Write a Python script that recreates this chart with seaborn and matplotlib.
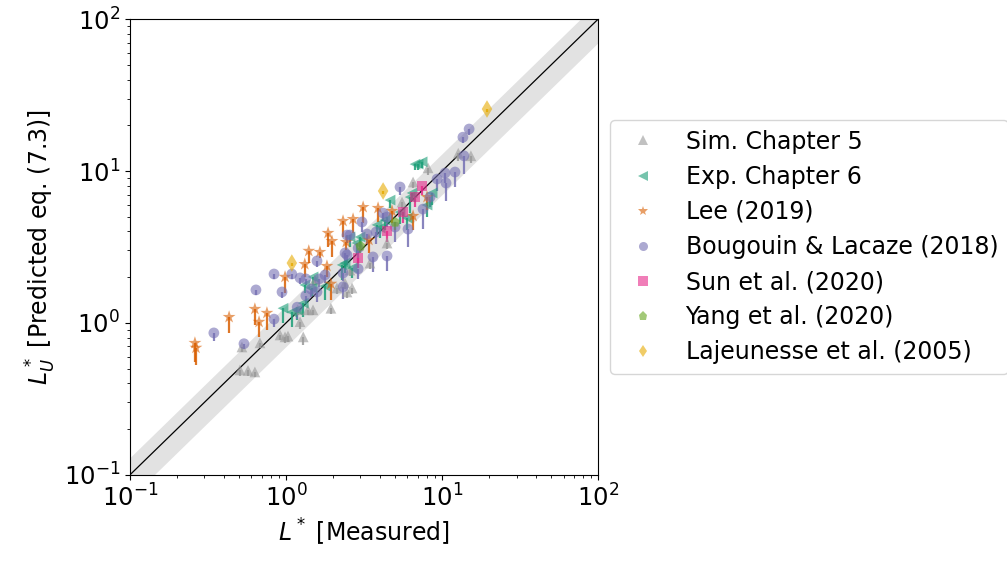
import numpy as np
import pandas as pd
import matplotlib
import matplotlib.pyplot as plt
import seaborn as sns
from matplotlib.lines import Line2D

matplotlib.rcParams['font.size'] = 17.5

# Sim. Chapter 5
sim_x = [0.507, 0.571, 0.632, 0.522, 0.681, 0.916, 0.986, 1.03, 1.29, 1.23, 1.19, 1.49, 1.94, 1.53,
         2.12, 2.39, 2.65, 2.46, 3.45, 4.44, 5.54, 6.52, 8.13, 12.7, 15.3, 1.38, 2.57]
sim_y = [0.491, 0.487, 0.476, 0.695, 0.74, 0.834, 0.81, 0.82, 0.81, 1.02, 1.22, 1.22, 1.25, 1.92,
         1.70, 1.83, 1.70, 1.60, 2.48, 3.36, 6.25, 8.47, 10.5, 13.1, 12.6, 1.22, 2.23]
sim_lo = [0.45, 0.45, 0.44, 0.64, 0.68, 0.77, 0.74, 0.75, 0.72, 0.91, 1.12, 1.12, 1.15, 1.77,
          1.56, 1.68, 1.56, 1.47, 2.28, 3.09, 5.75, 7.79, 9.4, 11.7, 11.3, 1.12, 2.05]

# Exp. Chapter 6
exp_x = [0.957, 1.09, 1.18, 1.29, 1.32, 1.49, 1.47, 1.78, 2.29, 2.39, 2.65, 2.57, 2.85, 2.98,
         3.83, 4.01, 4.31, 4.64, 5.38, 5.97, 6.42, 6.24, 6.71, 7.02, 7.45, 8.01, 8.63]
exp_y = [1.25, 1.18, 1.22, 1.35, 1.78, 2.01, 1.70, 1.75, 2.41, 2.48, 2.30, 3.68, 3.36, 3.68,
         4.42, 4.22, 4.76, 6.44, 5.37, 4.91, 7.17, 6.74, 11.1, 11.1, 11.5, 5.97, 7.17]
exp_lo = [1.00, 0.94, 1.05, 1.09, 1.58, 1.78, 1.51, 1.42, 1.92, 2.13, 1.98, 3.16, 2.80, 3.16,
          3.80, 3.63, 4.09, 5.71, 4.48, 4.09, 6.35, 5.29, 10.1, 10.1, 10.5, 4.98, 5.98]

# Lee (2019)
lee_x = [0.261, 0.265, 0.432, 0.632, 0.672, 0.755, 0.986, 1.32, 1.40, 1.65, 1.83, 1.86, 1.97,
         2.32, 1.94, 2.43, 2.69, 3.12, 3.40, 3.89, 4.78, 6.52, 8.01]
lee_y = [0.738, 0.686, 1.094, 1.236, 1.016, 1.164, 2.01, 2.44, 2.98, 2.93, 2.37, 3.91, 3.46,
         4.69, 1.81, 3.41, 4.83, 5.79, 3.52, 5.71, 5.46, 5.06, 6.74]
lee_lo = [0.553, 0.529, 0.86, 0.97, 0.809, 0.90, 1.575, 2.01, 2.48, 2.68, 2.01, 3.16, 2.72,
          3.68, 1.42, 3.02, 3.91, 4.55, 2.88, 4.62, 4.55, 4.09, 5.54]

# Bougouin & Lacaze (2018)
bou_x = [0.345, 0.538, 0.642, 0.838, 0.838, 0.943, 1.09, 1.23, 1.34, 1.58, 1.45, 1.34, 1.63, 1.78,
         1.58, 1.18, 2.32, 2.46, 2.46, 2.39, 2.57, 2.90, 3.07, 3.61, 3.78, 4.44, 4.19, 4.44, 5.00,
         6.05, 5.38, 7.55, 8.38, 9.29, 10.45, 10.6, 12.1, 13.6, 14.9, 13.8, 2.90, 2.32, 3.30]
bou_y = [0.86, 0.73, 1.65, 2.10, 1.06, 1.60, 2.10, 1.98, 1.95, 2.56, 1.67, 1.51, 1.95, 2.07,
         1.60, 1.27, 1.73, 2.80, 3.79, 2.89, 3.79, 3.11, 4.62, 2.72, 3.97, 2.76, 5.29, 4.98, 4.28,
         4.15, 7.85, 5.62, 6.74, 8.86, 9.7, 8.34, 9.85, 16.7, 18.9, 12.6, 2.27, 2.13, 3.85]
bou_lo = [0.76, 0.67, 1.53, 1.95, 0.94, 1.46, 1.95, 1.81, 1.78, 2.34, 1.48, 1.34, 1.73, 1.83,
          1.38, 1.06, 1.44, 2.41, 3.36, 2.49, 3.36, 2.48, 3.97, 2.17, 3.31, 2.20, 4.69, 4.28, 3.41,
          3.16, 6.95, 4.15, 5.80, 7.39, 8.34, 6.35, 7.85, 15.2, 17.3, 9.6, 1.95, 1.89, 3.31]

# Sun et al. (2020)
sun_x = [2.90, 4.44, 5.62, 6.71, 7.45]
sun_y = [2.68, 4.03, 5.37, 6.74, 7.97]
sun_lo = [2.30, 3.43, 4.55, 5.80, 6.95]

# Yang et al. (2020)
yang_x = [3.0, 5.0]
yang_y = [3.2, 4.6]
yang_lo = [2.9, 4.1]

# Lajeunesse et al. (2005)
laj_x = [1.09, 4.19, 19.4]
laj_y = [2.48, 7.39, 25.6]
laj_lo = [2.36, 7.02, 24.3]

labels = ['Sim. Chapter 5', 'Exp. Chapter 6', 'Lee (2019)', 'Bougouin & Lacaze (2018)',
          'Sun et al. (2020)', 'Yang et al. (2020)', 'Lajeunesse et al. (2005)']
series = [(sim_x, sim_y, sim_lo), (exp_x, exp_y, exp_lo), (lee_x, lee_y, lee_lo),
          (bou_x, bou_y, bou_lo), (sun_x, sun_y, sun_lo), (yang_x, yang_y, yang_lo),
          (laj_x, laj_y, laj_lo)]

dark2 = sns.color_palette('Dark2', 8)
colors = dict(zip(labels, ['#999999'] + list(dark2[:6])))
markers = dict(zip(labels, ['^', '<', '*', 'o', 's', 'p', 'd']))
sizes = dict(zip(labels, [60, 60, 95, 60, 50, 60, 80]))

df = pd.concat([pd.DataFrame({'meas': x, 'pred': y, 'lo': lo, 'source': lab})
                for lab, (x, y, lo) in zip(labels, series)], ignore_index=True)

fig = plt.figure(figsize=(10.07, 5.62), dpi=100)
ax = fig.add_axes([0.129, 0.155, 0.465, 0.811])

ref = np.array([0.1, 100])
ax.fill_between(ref, ref * 0.7, ref * 1.3, color='#e2e2e2', lw=0, zorder=0)
ax.plot(ref, ref, color='k', lw=0.9, zorder=1)

for lab in labels:
    sub = df[df.source == lab]
    ax.vlines(sub.meas, sub.lo, sub.pred, color=colors[lab], lw=1.6, alpha=0.85, zorder=2)

sns.scatterplot(data=df, x='meas', y='pred', hue='source', style='source', size='source',
                palette=colors, markers=markers, sizes=sizes, alpha=0.6, linewidth=0,
                legend=False, ax=ax, zorder=3)

ax.set_xscale('log')
ax.set_yscale('log')
ax.set_xlim(0.1, 100)
ax.set_ylim(0.1, 100)
ax.set_xlabel(r'$L^*$ [Measured]', fontsize=17)
ax.set_ylabel(r'$L_U^*$ [Predicted eq. (7.3)]', fontsize=17)

handles = [Line2D([], [], marker=markers[lab], color=colors[lab], linestyle='none',
                  alpha=0.6, markeredgewidth=0, markersize=6.5 if lab != 'Lee (2019)' else 7.5)
           for lab in labels]
ax.legend(handles, labels, loc='center left', bbox_to_anchor=(1.0, 0.5),
          labelspacing=0.47, fontsize=17)

fig.savefig('out.png', dpi=100)
